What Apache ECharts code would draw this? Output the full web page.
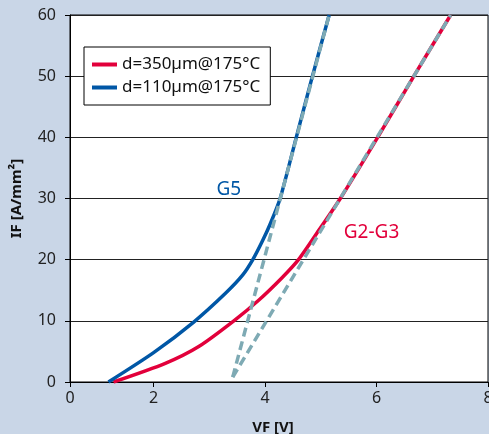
<!DOCTYPE html>
<html>
<head>
<meta charset="UTF-8">
<title>IF vs VF</title>
<script src="https://cdn.jsdelivr.net/npm/echarts@6/dist/echarts.min.js"></script>
<style>
  html, body { margin: 0; padding: 0; background: #c9d6e7; }
</style>
</head>
<body>
<div id="main" style="width: 489px;height:434px;"></div>
<script type="text/javascript">
// data
var xTicks = [0.5, 2, 4, 6, 8];       // first tick sits at the plot edge, labelled "0"
var xTickNames = ['0', '2', '4', '6', '8'];
var d350 = [[1.28, 0], [2.21, 3.05], [2.81, 5.8], [3.44, 10], [3.89, 13.4], [4.3, 17],
            [4.6, 20], [4.98, 25], [5.35, 30], [6.02, 40], [6.67, 50], [7.33, 60]];
var d110 = [[1.19, 0], [2.0, 4.8], [2.72, 9.8], [3.29, 14.5], [3.6, 17.5], [3.78, 20],
            [3.95, 23], [4.1, 26], [4.27, 30], [4.56, 40], [4.85, 50], [5.15, 60]];
var fitG5 = [[3.42, 0.8], [5.15, 60]];
var fitG23 = [[3.42, 0.8], [7.33, 60]];
var labelG5 = [3.35, 31.4];
var labelG23 = [5.91, 24.4];

var font = 'Noto Sans';
var chart = echarts.init(document.getElementById('main'));

chart.setOption({
    backgroundColor: '#c9d6e7',
    textStyle: { fontFamily: font },
    animation: false,
    grid: {
        left: 70, right: 1, top: 15, bottom: 52,
        outerBoundsMode: 'none',
        show: true, backgroundColor: '#fff', borderColor: '#000', borderWidth: 1
    },
    legend: {
        data: ['d=350µm@175°C', 'd=110µm@175°C'],
        orient: 'vertical',
        left: 84, top: 47,
        padding: [9, 10, 9, 8],
        itemGap: 6,
        itemWidth: 25, itemHeight: 4,
        icon: 'rect',
        backgroundColor: '#fff',
        borderColor: '#000',
        borderWidth: 1,
        textStyle: { fontSize: 17, color: '#111', fontFamily: font }
    },
    xAxis: {
        type: 'value',
        min: 0.5, max: 8,
        name: 'VF [V]',
        nameLocation: 'middle',
        nameGap: 38,
        nameTextStyle: { fontSize: 15, fontWeight: 'bold', color: '#111', padding: [0, 12, 0, 0] },
        axisLine: { lineStyle: { color: '#000', width: 1 } },
        axisTick: { show: true, length: 5, customValues: xTicks, lineStyle: { color: '#000' } },
        axisLabel: {
            customValues: xTicks,
            fontSize: 16, color: '#222', margin: 8,
            formatter: function (v) { return xTickNames[xTicks.indexOf(v)]; }
        },
        splitLine: { show: false }
    },
    yAxis: {
        type: 'value',
        min: 0, max: 60, interval: 10,
        name: 'IF [A/mm²]',
        nameLocation: 'middle',
        nameRotate: 90,
        nameGap: 46,
        nameTextStyle: { fontSize: 15, fontWeight: 'bold', color: '#111' },
        axisLine: { show: true, lineStyle: { color: '#000', width: 1 } },
        axisTick: { show: true, length: 5, lineStyle: { color: '#000' } },
        axisLabel: { fontSize: 16, color: '#222', margin: 14 },
        splitLine: { show: true, lineStyle: { color: '#222', width: 1 } }
    },
    series: [
        {
            name: 'd=350µm@175°C',
            type: 'line',
            data: d350,
            smooth: 0.25,
            showSymbol: false,
            lineStyle: { color: '#e2003b', width: 3.5 },
            itemStyle: { color: '#e2003b' },
            markPoint: {
                symbol: 'circle', symbolSize: 0,
                data: [{ coord: labelG23 }],
                label: { show: true, position: 'inside', formatter: 'G2-G3',
                         fontSize: 19, color: '#e2003b', fontFamily: font }
            }
        },
        {
            name: 'd=110µm@175°C',
            type: 'line',
            data: d110,
            smooth: 0.25,
            showSymbol: false,
            lineStyle: { color: '#0057a6', width: 3.5 },
            itemStyle: { color: '#0057a6' },
            markPoint: {
                symbol: 'circle', symbolSize: 0,
                data: [{ coord: labelG5 }],
                label: { show: true, position: 'inside', formatter: 'G5',
                         fontSize: 19, color: '#0057a6', fontFamily: font }
            }
        },
        {
            name: 'fit G5',
            type: 'line',
            data: fitG5,
            showSymbol: false,
            lineStyle: { color: '#7eaab4', width: 3.5, type: [9, 5] }
        },
        {
            name: 'fit G2-G3',
            type: 'line',
            data: fitG23,
            showSymbol: false,
            lineStyle: { color: '#7eaab4', width: 3.5, type: [9, 5] }
        }
    ]
});
</script>
</body>
</html>
